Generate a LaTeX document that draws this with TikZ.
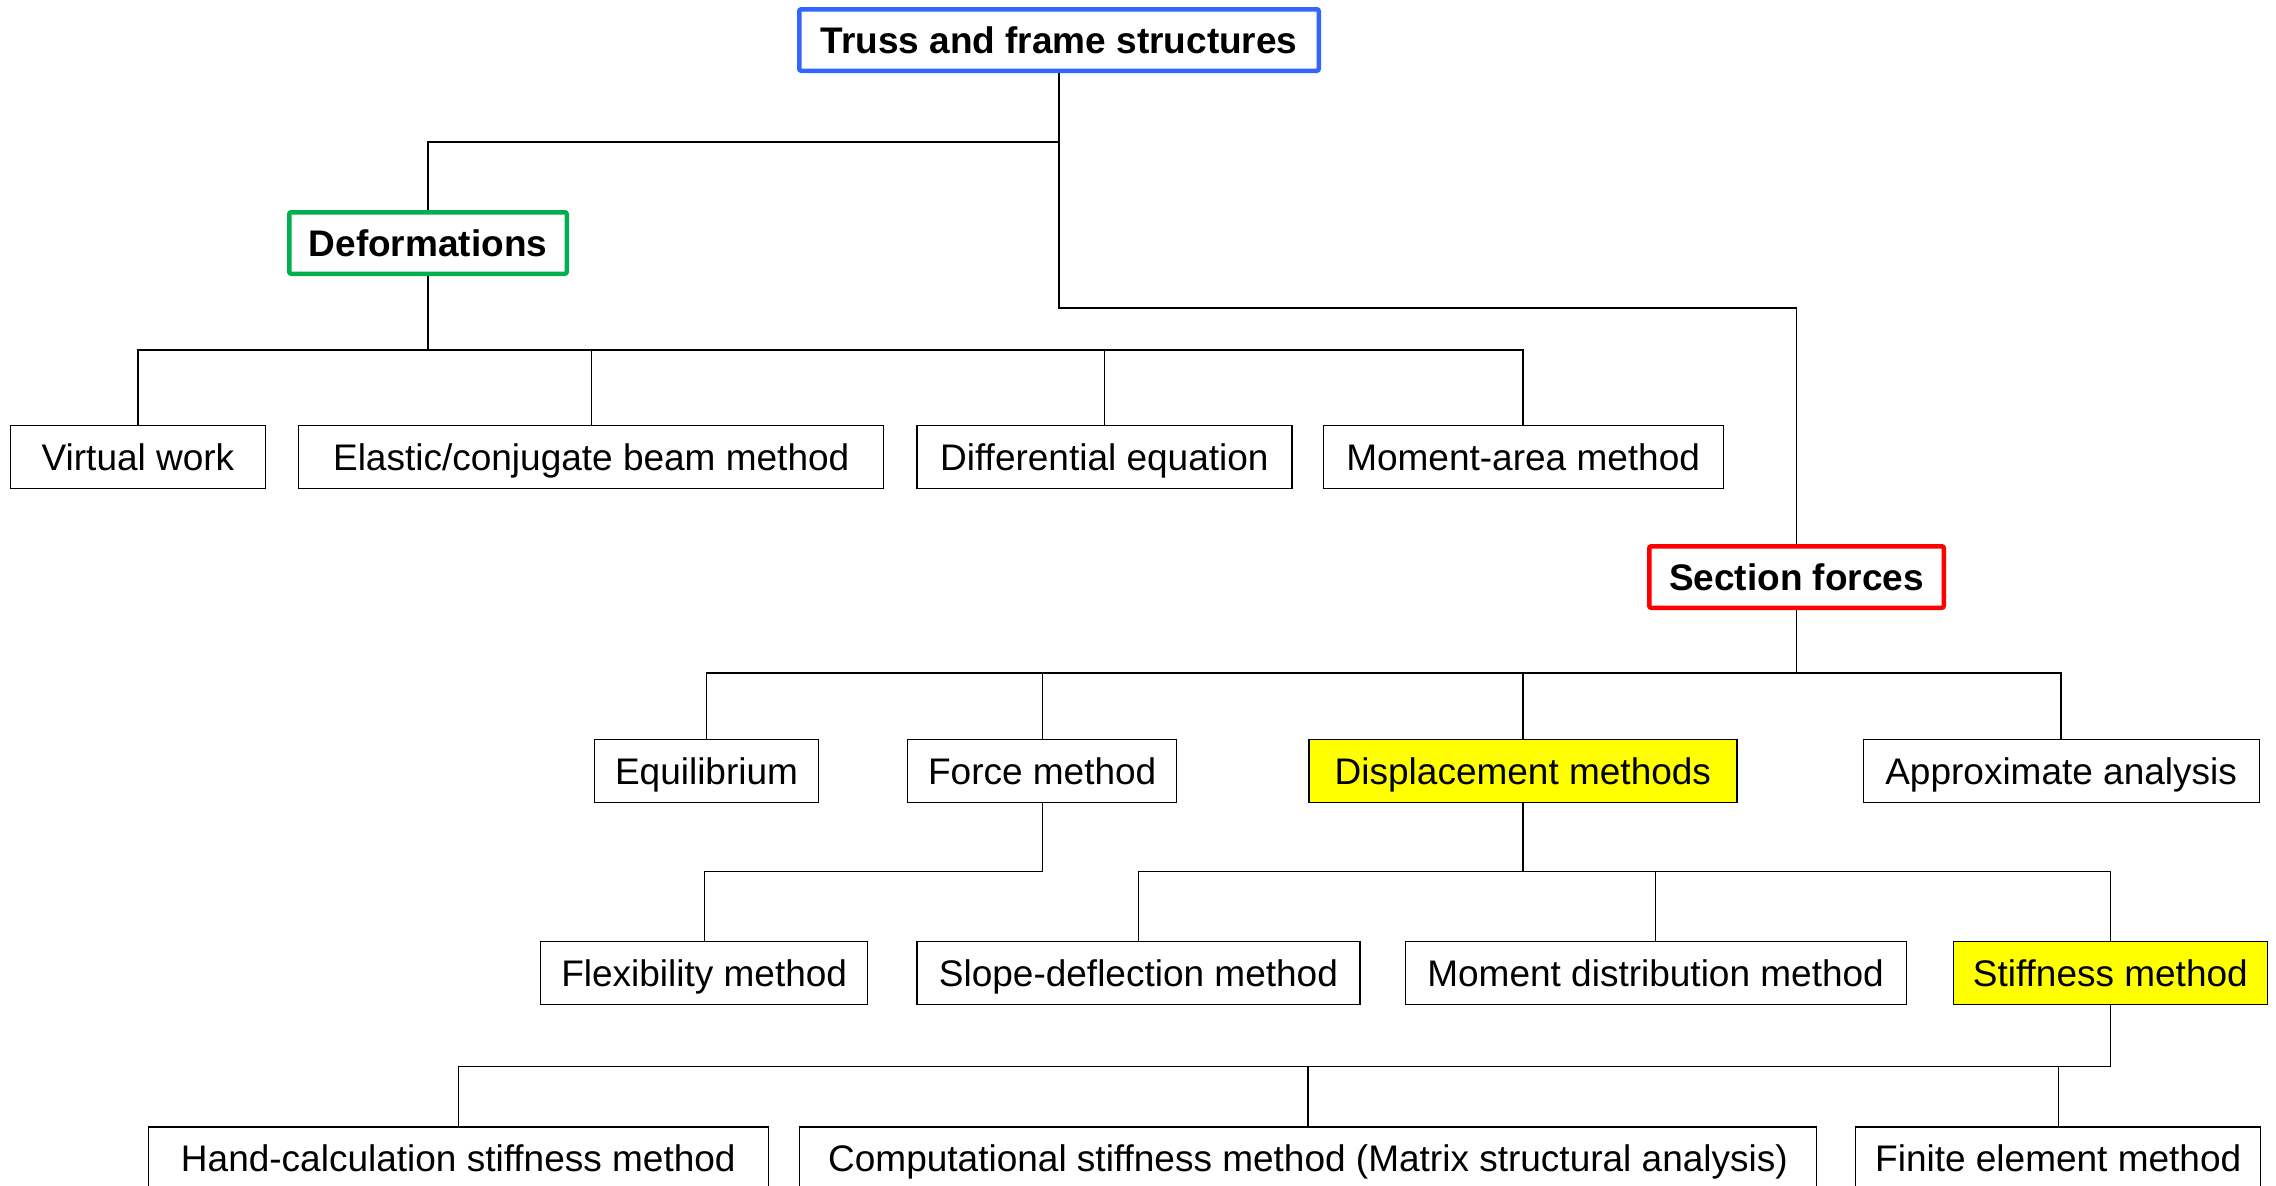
\documentclass[tikz,border=0pt]{standalone}
\usepackage{fontspec}
\setmainfont{Liberation Sans}
\usetikzlibrary{positioning}

\definecolor{rootblue}{RGB}{51,102,255}
\definecolor{defgreen}{RGB}{0,176,80}
\definecolor{secred}{RGB}{255,0,0}
\definecolor{markyellow}{RGB}{255,255,0}

\begin{document}
\begin{tikzpicture}[
    x=1pt, y=1pt,
    every node/.style={font=\fontsize{37}{44}\selectfont},
    method/.style={rectangle, draw=black, line width=1.2pt, minimum height=63pt,
        inner sep=0pt, text height=26.5pt, text depth=0pt, align=center},
    marked/.style={method, fill=markyellow},
    topic/.style={rectangle, rounded corners=2pt, line width=4.5pt, fill=white,
        minimum height=61.5pt, inner sep=0pt, text height=26.5pt, text depth=0pt,
        align=center, font=\fontsize{37}{44}\selectfont\bfseries},
    link/.style={line width=1.4pt}
]

\useasboundingbox (0,0) rectangle (2276,-1186);

% Nodo radice
\node[topic, draw=rootblue, minimum width=519.5pt] (truss) at (1059,-40) {Truss and frame structures};

% Livello 1
\node[topic, draw=defgreen, minimum width=277.5pt, below=137pt of truss, xshift=-631pt] (def) {Deformations};
\node[topic, draw=secred, minimum width=294.5pt, below=471pt of truss, xshift=737.5pt] (sec) {Section forces};

% Deformazioni
\node[method, minimum width=255pt, below=149pt of def, xshift=-290pt] (vw) {Virtual work};
\node[method, minimum width=585pt, right=32pt of vw] (ecb) {Elastic/conjugate beam method};
\node[method, minimum width=375pt, right=32pt of ecb] (diff) {Differential equation};
\node[method, minimum width=400pt, right=30pt of diff] (marea) {Moment-area method};

% Forze interne
\node[method, minimum width=224pt, below=129pt of sec, xshift=-1090pt] (equil) {Equilibrium};
\node[method, minimum width=269pt, right=88pt of equil] (force) {Force method};
\node[marked, minimum width=428pt, right=131pt of force] (displ) {Displacement methods};
\node[method, minimum width=396pt, right=125pt of displ] (approx) {Approximate analysis};

% Livello 3
\node[method, minimum width=327pt, below=138pt of force, xshift=-338pt] (flex) {Flexibility method};
\node[method, minimum width=443pt, right=48pt of flex] (slope) {Slope-deflection method};
\node[method, minimum width=501pt, right=44pt of slope] (mdist) {Moment distribution method};
\node[marked, minimum width=314pt, right=46pt of mdist] (stiff) {Stiffness method};

% Livello 4
\node[method, minimum width=620pt, below=121pt of stiff, xshift=-1652pt] (hand) {Hand-calculation stiffness method};
\node[method, minimum width=1017pt, right=30pt of hand] (comp) {Computational stiffness method (Matrix structural analysis)};
\node[method, minimum width=405pt, right=38pt of comp] (fem) {Finite element method};

% Collegamenti
\draw[link] (truss.south) -- ++(0,-69) -| (def.north);
\draw[link] (truss.south) -- ++(0,-235) -| (sec.north);

\draw[link] (def.south) -- ++(0,-74) -| (vw.north);
\draw[link] (def.south) -- ++(0,-74) -| (ecb.north);
\draw[link] (def.south) -- ++(0,-74) -| (diff.north);
\draw[link] (def.south) -- ++(0,-74) -| (marea.north);

\draw[link] (sec.south) -- ++(0,-63) -| (equil.north);
\draw[link] (sec.south) -- ++(0,-63) -| (force.north);
\draw[link] (sec.south) -- ++(0,-63) -| (displ.north);
\draw[link] (sec.south) -- ++(0,-63) -| (approx.north);

\draw[link] (force.south) -- ++(0,-68) -| (flex.north);

\draw[link] (displ.south) -- ++(0,-68) -| (slope.north);
\draw[link] (displ.south) -- ++(0,-68) -| (mdist.north);
\draw[link] (displ.south) -- ++(0,-68) -| (stiff.north);

\draw[link] (stiff.south) -- ++(0,-61) -| (hand.north);
\draw[link] (stiff.south) -- ++(0,-61) -| (comp.north);
\draw[link] (stiff.south) -- ++(0,-61) -| (fem.north);

\end{tikzpicture}
\end{document}
